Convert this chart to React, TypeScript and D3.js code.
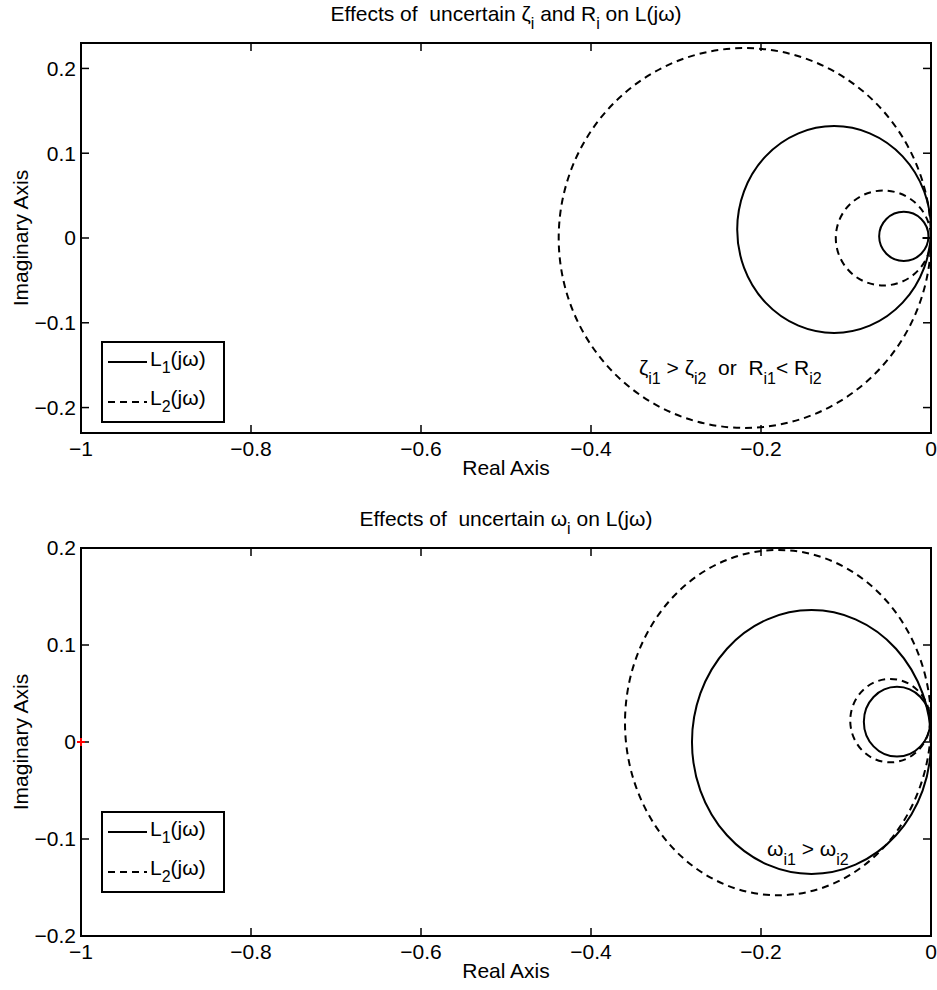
import React from "react";
import * as d3 from "d3";

// ---------- data ----------
const xTicks = [-1, -0.8, -0.6, -0.4, -0.2, 0];
const yTicksTop = [-0.2, -0.1, 0, 0.1, 0.2];
const yTicksBottom = [-0.2, -0.1, 0, 0.1, 0.2];
const xDomain: [number, number] = [-1, 0];
const yDomainTop: [number, number] = [-0.23, 0.23];
const yDomainBottom: [number, number] = [-0.2, 0.2];

// loops of L1 / L2 as ellipses: [centre re, centre im, radius re, radius im]
const topL1 = [
  [-0.114, 0.01, 0.114, 0.122],
  [-0.032, 0.002, 0.029, 0.029],
];
const topL2 = [
  [-0.219, 0.0, 0.219, 0.224],
  [-0.056, 0.0, 0.056, 0.056],
];
// short tail of L1 near the origin (top plot): [re, im] points
const topL1Tail = [
  [-0.01, 0.0],
  [0.0, 0.0],
];
const bottomL1 = [
  [-0.1406, 0.0, 0.1406, 0.136],
  [-0.04, 0.021, 0.039, 0.036],
];
const bottomL2 = [
  [-0.18, 0.02, 0.18, 0.178],
  [-0.048, 0.022, 0.047, 0.043],
];
const criticalPoint = [-1, 0];

const FONT = "'Liberation Sans', Arial, Helvetica, sans-serif";
const FS = 21;
const SUB = 16;

type Seg = { t: string; sub?: boolean };

function RichText({ x, y, segs, anchor = "start", fs = FS, subDy = 8 }: any) {
  const out: any[] = [];
  let prevSub = false;
  segs.forEach((s: Seg, i: number) => {
    let dy = 0;
    if (s.sub && !prevSub) dy = subDy;
    if (!s.sub && prevSub) dy = -subDy;
    out.push(
      <tspan key={i} dy={dy} fontSize={s.sub ? SUB : fs}>
        {s.t}
      </tspan>
    );
    prevSub = !!s.sub;
  });
  return (
    <text x={x} y={y} textAnchor={anchor} fontFamily={FONT} fontSize={fs} fill="#000" style={{ whiteSpace: "pre" }}>
      {out}
    </text>
  );
}

function Panel({ top, bottom, yDomain, yTicks, l1, l2, tail, title, legendTop, annotation, showCritical }: any) {
  const left = 81;
  const right = 931;
  const x = d3.scaleLinear().domain(xDomain).range([left, right]);
  const y = d3.scaleLinear().domain(yDomain).range([bottom, top]);
  const fmt = d3.format("~g");
  const tickLen = 8;
  const ell = (e: number[], dashed: boolean, k: string) => (
    <ellipse
      key={k}
      cx={x(e[0])}
      cy={y(e[1])}
      rx={x(e[0] + e[2]) - x(e[0])}
      ry={y(e[1]) - y(e[1] + e[3])}
      fill="none"
      stroke="#000"
      strokeWidth={2}
      strokeDasharray={dashed ? "7,5" : undefined}
    />
  );
  const line = d3
    .line<number[]>()
    .x((d) => x(d[0]))
    .y((d) => y(d[1]));
  const midY = (top + bottom) / 2;
  const lx1 = 108;
  const lx2 = 147;
  return (
    <g>
      <defs>
        <clipPath id={"clip" + top}>
          <rect x={left} y={top} width={right - left} height={bottom - top} />
        </clipPath>
      </defs>
      <g clipPath={`url(#clip${top})`}>
        {l1.map((e: number[], i: number) => ell(e, false, "a" + i))}
        {l2.map((e: number[], i: number) => ell(e, true, "b" + i))}
        {tail && <path d={line(tail) || ""} fill="none" stroke="#000" strokeWidth={2} />}
      </g>
      {/* ticks */}
      {xTicks.map((t) => (
        <g key={"xt" + t}>
          <line x1={x(t)} x2={x(t)} y1={bottom} y2={bottom - tickLen} stroke="#000" strokeWidth={1.5} />
          <line x1={x(t)} x2={x(t)} y1={top} y2={top + tickLen} stroke="#000" strokeWidth={1.5} />
          <text x={x(t)} y={bottom + 23} textAnchor="middle" fontFamily={FONT} fontSize={FS}>
            {fmt(t)}
          </text>
        </g>
      ))}
      {yTicks.map((t: number) => (
        <g key={"yt" + t}>
          <line x1={left} x2={left + tickLen} y1={y(t)} y2={y(t)} stroke="#000" strokeWidth={1.5} />
          <line x1={right} x2={right - tickLen} y1={y(t)} y2={y(t)} stroke="#000" strokeWidth={1.5} />
          <text x={left - 5} y={y(t)} dy="0.35em" textAnchor="end" fontFamily={FONT} fontSize={FS}>
            {fmt(t)}
          </text>
        </g>
      ))}
      <rect x={left} y={top} width={right - left} height={bottom - top} fill="none" stroke="#000" strokeWidth={2} />
      {showCritical && (
        <g stroke="red" strokeWidth={2}>
          <line x1={x(criticalPoint[0]) - 4} x2={x(criticalPoint[0]) + 4} y1={y(criticalPoint[1])} y2={y(criticalPoint[1])} />
          <line x1={x(criticalPoint[0])} x2={x(criticalPoint[0])} y1={y(criticalPoint[1]) - 4} y2={y(criticalPoint[1]) + 4} />
        </g>
      )}
      {/* labels */}
      <text x={(left + right) / 2} y={bottom + 42} textAnchor="middle" fontFamily={FONT} fontSize={FS}>
        Real Axis
      </text>
      <text
        transform={`translate(28,${midY}) rotate(-90)`}
        textAnchor="middle"
        fontFamily={FONT}
        fontSize={FS}
      >
        Imaginary Axis
      </text>
      <RichText x={(left + right) / 2} y={top - 22} anchor="middle" segs={title} subDy={8} />
      {annotation}
      {/* legend */}
      <g>
        <rect x={102} y={legendTop} width={122} height={80} fill="#fff" stroke="#000" strokeWidth={2} />
        <line x1={lx1} x2={lx2} y1={legendTop + 20} y2={legendTop + 20} stroke="#000" strokeWidth={2} />
        <line x1={lx1} x2={lx2} y1={legendTop + 60} y2={legendTop + 60} stroke="#000" strokeWidth={2} strokeDasharray="7,5" />
        <RichText x={150} y={legendTop + 24} segs={[{ t: "L" }, { t: "1", sub: true }, { t: "(jω)" }]} subDy={7} />
        <RichText x={150} y={legendTop + 63} segs={[{ t: "L" }, { t: "2", sub: true }, { t: "(jω)" }]} subDy={7} />
      </g>
    </g>
  );
}

export default function App() {
  return (
    <svg
      width={937}
      height={990}
      style={{ position: "absolute", left: 0, top: 0, background: "#fff" }}
    >
      <rect width={937} height={990} fill="#fff" />
      <Panel
        top={43}
        bottom={433}
        yDomain={yDomainTop}
        yTicks={yTicksTop}
        l1={topL1}
        l2={topL2}
        tail={topL1Tail}
        legendTop={342}
        title={[
          { t: "Effects of  uncertain ζ" },
          { t: "i", sub: true },
          { t: " and R" },
          { t: "i", sub: true },
          { t: " on L(jω)" },
        ]}
        annotation={
          <RichText
            x={639}
            y={375}
            subDy={9}
            segs={[
              { t: "ζ" },
              { t: "i1", sub: true },
              { t: " > ζ" },
              { t: "i2", sub: true },
              { t: "  or  R" },
              { t: "i1", sub: true },
              { t: "< R" },
              { t: "i2", sub: true },
            ]}
          />
        }
      />
      <Panel
        top={548}
        bottom={936}
        yDomain={yDomainBottom}
        yTicks={yTicksBottom}
        l1={bottomL1}
        l2={bottomL2}
        legendTop={812}
        showCritical
        title={[{ t: "Effects of  uncertain ω" }, { t: "i", sub: true }, { t: " on L(jω)" }]}
        annotation={
          <RichText
            x={767}
            y={856}
            subDy={9}
            segs={[{ t: "ω" }, { t: "i1", sub: true }, { t: " > ω" }, { t: "i2", sub: true }]}
          />
        }
      />
    </svg>
  );
}
